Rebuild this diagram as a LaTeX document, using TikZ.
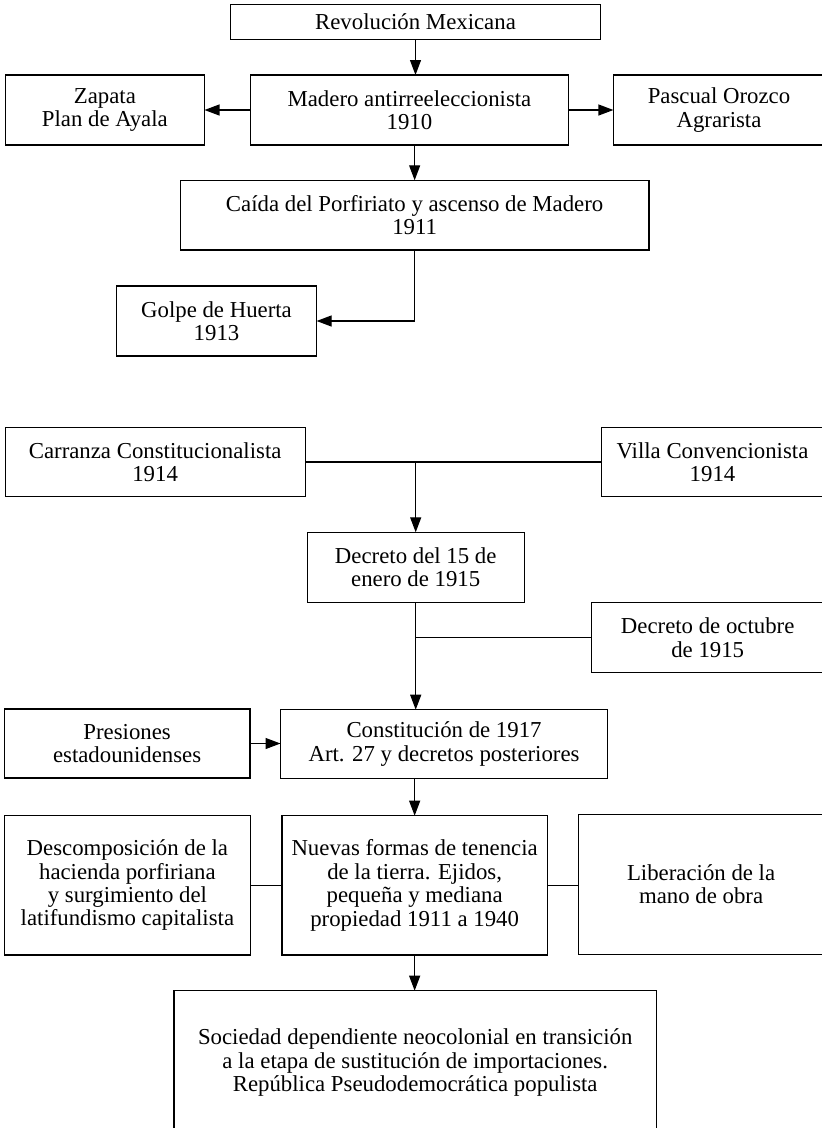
\documentclass[tikz,border=0pt]{standalone}
\usepackage{fontspec}
\setmainfont{Liberation Serif}
\usetikzlibrary{arrows.meta}
\tikzset{
  box/.style={draw, line width=1.2pt, inner sep=0pt, outer sep=0pt, align=center,
    font=\fontsize{22.8}{23.4}\selectfont},
  flow/.style={line width=1.2pt, -{Triangle[length=15pt,width=11pt]}},
  link/.style={line width=1.2pt}
}
\begin{document}
\begin{tikzpicture}[x=1pt,y=-1pt]
\useasboundingbox (0,0) rectangle (822,1128);
\begin{scope}
\clip (0,0) rectangle (822,1128);
% upper block
\node[box, minimum width=369.6pt, minimum height=34.6pt] (rev) at (415.5,22) {Revolución Mexicana};
\node[box, minimum width=199.3pt, minimum height=70pt] (zap) at (104.85,110) {Zapata\\Plan de Ayala};
\node[box, minimum width=317.7pt, minimum height=70pt] (mad) at (409.45,110) {Madero antirreeleccionista\\1910};
\node[box, minimum width=211.2pt, minimum height=70pt] (pas) at (719,110) {Pascual Orozco\\Agrarista};
\node[box, minimum width=468.7pt, minimum height=69.7pt] (cai) at (414.65,215.15) {Caída del Porfiriato y ascenso de Madero\\1911};
\node[box, minimum width=200.2pt, minimum height=70pt] (gol) at (216.5,321) {Golpe de Huerta\\1913};
% lower block
\node[box, minimum width=299.9pt, minimum height=68.6pt] (car) at (155.15,462) {Carranza Constitucionalista\\1914};
\node[box, minimum width=222.4pt, minimum height=69.4pt] (vil) at (712.5,462) {Villa Convencionista\\1914};
\node[box, minimum width=217pt, minimum height=70pt] (d15) at (415.7,567.3) {Decreto del 15 de\\enero de 1915};
\node[box, minimum width=232.6pt, minimum height=70pt] (oct) at (707.7,637.7) {Decreto de octubre\\de 1915};
\node[box, minimum width=245.8pt, minimum height=69pt] (pre) at (127.1,743.5) {Presiones\\estadounidenses};
\node[box, minimum width=327.1pt, minimum height=68.6pt] (con) at (444.05,744) {Constitución de 1917\\Art. 27 y decretos posteriores};
\node[box, minimum width=246.4pt, minimum height=139.3pt] (des) at (127.4,885.35) {Descomposición de la\\hacienda porfiriana\\y surgimiento del\\latifundismo capitalista};
\node[box, minimum width=265.3pt, minimum height=139.3pt] (nue) at (414.65,885.35) {Nuevas formas de tenencia\\de la tierra. Ejidos,\\pequeña y mediana\\propiedad 1911 a 1940};
\node[box, minimum width=245.8pt, minimum height=140pt] (lib) at (701.1,884.3) {Liberación de la\\mano de obra};
\node[box, minimum width=482.4pt, minimum height=143.6pt] (soc) at (415.2,1062.5) {Sociedad dependiente neocolonial en transición\\a la etapa de sustitución de importaciones.\\República Pseudodemocrática populista};
% connectors
\draw[flow] (rev.south) -- (rev.south |- mad.north);
\draw[flow] (mad.west) -- (zap.east);
\draw[flow] (mad.east) -- (pas.west);
\draw[flow] (cai.north |- mad.south) -- (cai.north);
\draw[flow] (cai.south) |- (gol.east);
\draw[link] (car.east) -- (vil.west);
\draw[flow] (d15.north |- car.east) -- (d15.north);
\draw[link] (d15.south |- oct.west) -- (oct.west);
\draw[flow] (d15.south) -- (d15.south |- con.north);
\draw[flow] (pre.east) -- (pre.east -| con.west);
\draw[flow] (nue.north |- con.south) -- (nue.north);
\draw[link] (des.east) -- (des.east -| nue.west);
\draw[link] (nue.east) -- (nue.east -| lib.west);
\draw[flow] (nue.south) -- (nue.south |- soc.north);
\end{scope}
\end{tikzpicture}
\end{document}
